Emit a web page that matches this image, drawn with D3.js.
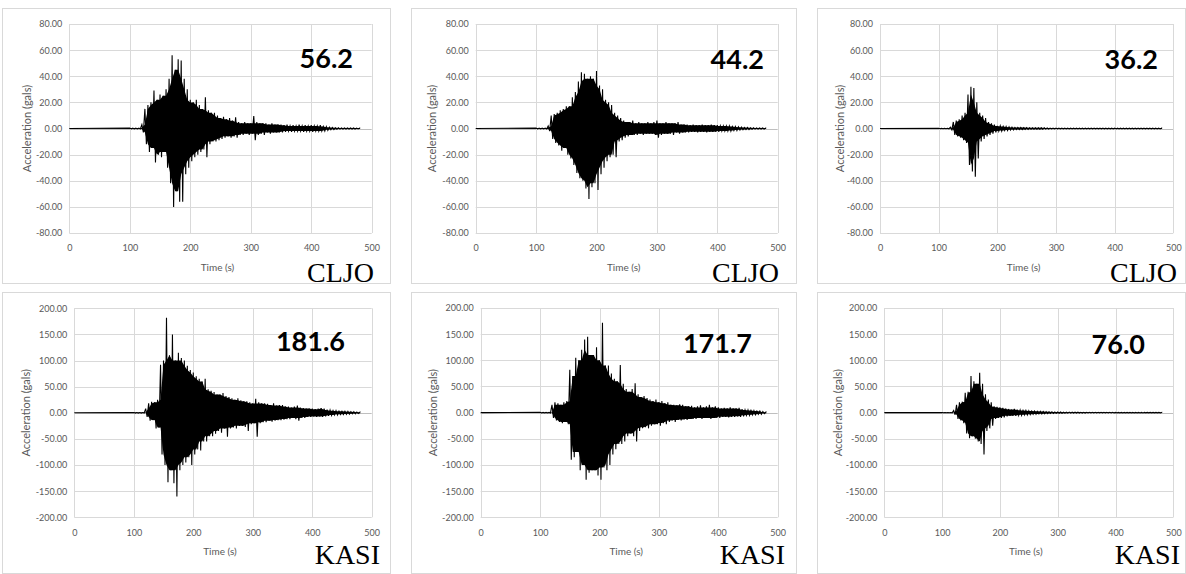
<!DOCTYPE html>
<html>
<head>
<meta charset="utf-8">
<script src="https://cdn.jsdelivr.net/npm/d3@7/dist/d3.min.js"></script>
<style>
  body { margin: 0; background: #fff; }
  svg { display: block; }
</style>
</head>
<body>
<svg id="chart" width="1186" height="574"></svg>
<script>
// ========================================
// DATA (envelope peaks, 5 s bins from 100 s to 480 s)
// ========================================

const binTimes = d3.range(100, 485, 5);
const timeTicks = [0, 100, 200, 300, 400, 500];
const cljoTicks = [-80, -60, -40, -20, 0, 20, 40, 60, 80];
const kasiTicks = [-200, -150, -100, -50, 0, 50, 100, 150, 200];

const stationNames = ["CLJO", "CLJO", "CLJO", "KASI", "KASI", "KASI"];
const peakLabels = ["56.2", "44.2", "36.2", "181.6", "171.7", "76.0"];

// CLJO, peak 56.2
const cljoA_hi = [0.3,0.3,0.3,0.3,3,15,18,20,29,22,
                  26,25,30,38,56,45,53,52,38,30,
                  22,20,22,18,15,24,14,12,12,10,
                  8,9,7,8,6,8.5,5,4,5,4,
                  4,9.5,5,4,4,4,3,4,3,3,
                  3,2.5,3,2,2.5,2,3,2,2.5,2,
                  2.5,2,2,2.5,1.5,1.5,1,0.8,0.6,0.5,
                  0.4,0.4,0.4,0.4,0.4,0.3,0.3];
const cljoA_lo = [-0.3,-0.3,-0.3,-0.3,-3,-12,-18,-15,-26,-20,
                  -22,-18,-30,-42,-60,-48,-56,-56,-35,-30,
                  -25,-22,-20,-18,-16,-22,-12,-10,-10,-9,
                  -8,-7,-6,-7,-6,-7,-5,-5,-4,-5,
                  -4,-9,-5,-4,-5,-3,-4,-3,-3,-3,
                  -3,-2.5,-2,-2.5,-2,-2,-2,-2.5,-2,-2,
                  -2.5,-2,-2,-2,-2,-1.5,-1,-0.8,-0.6,-0.5,
                  -0.4,-0.4,-0.4,-0.4,-0.4,-0.3,-0.3];

// CLJO, peak 44.2
const cljoB_hi = [0.3,0.3,0.3,0.3,2,10,11,12,14,15,
                  17,17,24,28,36,43,42,38,40,38,
                  44,33,30,22,20,18,12,10,8,6,
                  5,5,6,4,5,4,4,5,4,5,
                  6,4,4,5,4,4,4,5,3,3,
                  3,2.5,3,2.5,2.5,3,2.5,2.5,3,2.5,
                  2.5,2,2,2,2,1.5,1.5,1.2,1,0.8,
                  0.8,0.6,0.5,0.4,0.4,0.4,0.3];
const cljoB_lo = [-0.3,-0.3,-0.3,-0.3,-2,-8,-11,-13,-17,-15,
                  -20,-23,-28,-34,-38,-40,-46,-54,-45,-42,
                  -47,-35,-30,-25,-22,-20,-22,-10,-9,-7,
                  -6,-5,-5,-5,-4,-5,-4,-4,-4,-5,
                  -7,-5,-4,-4,-4,-5,-3,-4,-3,-3,
                  -3,-2.5,-2.5,-3,-2.5,-2.5,-3,-2.5,-2.5,-2.5,
                  -2.5,-2,-2,-2,-2,-1.5,-1.5,-1.2,-1,-0.8,
                  -0.8,-0.6,-0.5,-0.4,-0.4,-0.4,-0.3];

// CLJO, peak 36.2
const cljoC_hi = [0.2,0.2,0.2,0.2,1,5,6,7,10,12,
                  26,32,31,20,12,10,8,5,4,3,
                  2,2,1.5,1.5,1.2,1,0.8,0.8,0.8,0.7,
                  0.7,0.6,0.6,0.6,0.5,0.5,0.5,0.4,0.3,0.3,
                  0.3,0.3,0.3,0.3,0.3,0.3,0.3,0.3,0.3,0.3,
                  0.3,0.3,0.3,0.3,0.3,0.3,0.3,0.3,0.3,0.3,
                  0.3,0.3,0.3,0.3,0.3,0.3,0.3,0.3,0.3,0.3,
                  0.3,0.3,0.3,0.3,0.3,0.3,0.3];
const cljoC_lo = [-0.2,-0.2,-0.2,-0.2,-1,-5,-6,-7,-9,-11,
                  -28,-33,-37,-23,-10,-8,-6,-5,-4,-3,
                  -2,-2,-1.5,-1.5,-1.2,-1,-0.8,-0.8,-0.8,-0.7,
                  -0.7,-0.6,-0.6,-0.6,-0.5,-0.5,-0.5,-0.4,-0.3,-0.3,
                  -0.3,-0.3,-0.3,-0.3,-0.3,-0.3,-0.3,-0.3,-0.3,-0.3,
                  -0.3,-0.3,-0.3,-0.3,-0.3,-0.3,-0.3,-0.3,-0.3,-0.3,
                  -0.3,-0.3,-0.3,-0.3,-0.3,-0.3,-0.3,-0.3,-0.3,-0.3,
                  -0.3,-0.3,-0.3,-0.3,-0.3,-0.3,-0.3];

// KASI, peak 181.6
const kasiA_hi = [0.5,0.5,0.5,0.5,8,18,21,20,25,92,
                  100,182,110,150,100,115,105,100,90,82,
                  77,70,65,60,65,45,42,40,35,35,
                  38,32,30,28,25,28,24,22,22,20,
                  18,27,20,18,18,17,15,18,14,15,
                  15,12,12,10,12,14,10,9,8,8,
                  8,7,8,9,8,6,5,4,4,3,
                  3,3,2.5,2,2,1.5,1];
const kasiA_lo = [-0.5,-0.5,-0.5,-0.5,-8,-15,-14,-30,-28,-80,
                  -100,-133,-110,-135,-160,-110,-100,-95,-85,-100,
                  -80,-70,-72,-55,-55,-45,-45,-40,-35,-38,
                  -30,-46,-30,-28,-30,-25,-25,-27,-35,-22,
                  -20,-46,-20,-18,-18,-15,-17,-15,-14,-14,
                  -13,-12,-12,-10,-12,-15,-10,-10,-8,-8,
                  -7,-8,-7,-8,-7,-6,-5,-4,-4,-3,
                  -3,-3,-2.5,-2,-2,-1.5,-1];

// KASI, peak 171.7
const kasiB_hi = [0.5,0.5,0.5,0.5,15,20,18,15,20,22,
                  82,70,105,100,120,140,145,110,110,125,
                  100,172,90,90,75,65,60,91,55,45,
                  40,45,56,35,30,32,28,25,22,25,
                  20,22,18,20,15,15,14,16,15,12,
                  12,13,10,12,14,10,12,15,10,12,
                  10,8,9,8,10,8,8,9,7,5,
                  5,4,4,3,3,2,1];
const kasiB_lo = [-0.5,-0.5,-0.5,-0.5,-10,-15,-18,-20,-18,-22,
                  -90,-85,-75,-110,-100,-128,-115,-110,-110,-120,
                  -128,-105,-110,-100,-80,-70,-60,-60,-55,-45,
                  -40,-45,-55,-35,-30,-28,-30,-25,-22,-22,
                  -25,-20,-22,-18,-15,-18,-14,-15,-13,-14,
                  -12,-12,-12,-10,-12,-10,-10,-12,-10,-10,
                  -10,-8,-8,-9,-8,-8,-7,-8,-7,-5,
                  -5,-4,-4,-3,-3,-2,-1];

// KASI, peak 76.0
const kasiC_hi = [0.3,0.3,0.3,0.3,4,15,20,21,38,40,
                  70,60,55,76,55,35,25,20,12,11,
                  10,9,8,7,6,7,6,5,4,4,
                  3.5,3,3,2.5,2.5,2,2,1.5,1.5,1.2,
                  1.2,1.2,1,1,1,0.8,0.8,0.8,0.7,0.7,
                  0.6,0.6,0.6,0.6,0.6,0.6,0.6,0.6,0.6,0.6,
                  0.5,0.5,0.5,0.5,0.5,0.5,0.5,0.5,0.5,0.5,
                  0.4,0.4,0.4,0.4,0.4,0.4,0.4];
const kasiC_lo = [-0.3,-0.3,-0.3,-0.3,-4,-12,-15,-20,-40,-49,
                  -45,-50,-55,-60,-80,-35,-30,-25,-12,-10,
                  -10,-9,-7,-6,-6,-6,-5,-5,-4,-4,
                  -3.5,-3,-3,-2.5,-2.5,-2,-2,-1.5,-1.5,-1.2,
                  -1.2,-1.2,-1,-1,-1,-0.8,-0.8,-0.8,-0.7,-0.7,
                  -0.6,-0.6,-0.6,-0.6,-0.6,-0.6,-0.6,-0.6,-0.6,-0.6,
                  -0.5,-0.5,-0.5,-0.5,-0.5,-0.5,-0.5,-0.5,-0.5,-0.5,
                  -0.4,-0.4,-0.4,-0.4,-0.4,-0.4,-0.4];

// ========================================
// LAYOUT
// ========================================

const panels = [
  { hi: cljoA_hi, lo: cljoA_lo, ticks: cljoTicks, box: [2.5, 8.5, 390.5, 283.5],
    plot: [69.3, 371.7, 24, 233], titleX: 26.7, peakXY: [353, 68], nameXY: [374, 282] },
  { hi: cljoB_hi, lo: cljoB_lo, ticks: cljoTicks, box: [411.5, 8.5, 796.5, 283.5],
    plot: [475.7, 777.7, 24, 233], titleX: 431.7, peakXY: [764, 69], nameXY: [779, 282] },
  { hi: cljoC_hi, lo: cljoC_lo, ticks: cljoTicks, box: [817.5, 8.5, 1185.5, 283.5],
    plot: [880, 1173.3, 24, 233], titleX: 840, peakXY: [1158, 69], nameXY: [1177, 282] },
  { hi: kasiA_hi, lo: kasiA_lo, ticks: kasiTicks, box: [2.5, 292.5, 390.5, 573.5],
    plot: [74.3, 371.7, 308.3, 517.3], titleX: 26, peakXY: [345, 351], nameXY: [380, 564] },
  { hi: kasiB_hi, lo: kasiB_lo, ticks: kasiTicks, box: [411.5, 292.5, 796.5, 573.5],
    plot: [480.7, 777.7, 308, 517.3], titleX: 432.7, peakXY: [752, 353], nameXY: [785, 564] },
  { hi: kasiC_hi, lo: kasiC_lo, ticks: kasiTicks, box: [817.5, 292.5, 1185.5, 573.5],
    plot: [884.3, 1173.3, 308, 517.3], titleX: 838.3, peakXY: [1145, 354], nameXY: [1180, 564] }
];

const svg = d3.select('#chart');
const gridColor = '#d9d9d9';
const labelColor = '#595959';

panels.forEach((p, i) => {
  const [x0, x1, y0, y1] = p.plot;
  const x = d3.scaleLinear().domain([0, 500]).range([x0, x1]);
  const y = d3.scaleLinear().domain([p.ticks[0], p.ticks[p.ticks.length - 1]]).range([y1, y0]);
  const g = svg.append('g');

  // chart area border
  g.append('rect')
    .attr('x', p.box[0]).attr('y', p.box[1])
    .attr('width', p.box[2] - p.box[0]).attr('height', p.box[3] - p.box[1])
    .attr('fill', 'none').attr('stroke', gridColor).attr('stroke-width', 1);

  // gridlines
  g.append('g').selectAll('line.h').data(p.ticks).enter().append('line')
    .attr('x1', x0).attr('x2', x1)
    .attr('y1', d => Math.round(y(d)) + 0.5).attr('y2', d => Math.round(y(d)) + 0.5)
    .attr('stroke', d => d === 0 ? '#bfbfbf' : gridColor).attr('stroke-width', 1);
  g.append('g').selectAll('line.v').data(timeTicks).enter().append('line')
    .attr('x1', d => Math.round(x(d)) + 0.5).attr('x2', d => Math.round(x(d)) + 0.5)
    .attr('y1', y0).attr('y2', y1)
    .attr('stroke', gridColor).attr('stroke-width', 1);

  // axes (labels only, Excel style)
  const yAxis = g.append('g').attr('transform', `translate(${x0},0)`)
    .call(d3.axisLeft(y).tickValues(p.ticks).tickFormat(d => d.toFixed(2)).tickSize(0).tickPadding(7));
  const xAxis = g.append('g').attr('transform', `translate(0,${y1})`)
    .call(d3.axisBottom(x).tickValues(timeTicks).tickFormat(d3.format('d')).tickSize(0).tickPadding(12));
  [yAxis, xAxis].forEach(a => {
    a.select('.domain').remove();
    a.selectAll('text').attr('fill', labelColor)
      .attr('font-family', 'Lato, "Open Sans", sans-serif').attr('font-size', 9);
  });

  // axis titles
  g.append('text')
    .attr('transform', `translate(${p.titleX},${(y0 + y1) / 2}) rotate(-90)`)
    .attr('text-anchor', 'middle').attr('dy', '0.35em')
    .attr('font-family', 'Lato, "Open Sans", sans-serif').attr('font-size', 11)
    .attr('fill', labelColor).text('Acceleration (gals)');
  g.append('text')
    .attr('x', (x0 + x1) / 2 - 3).attr('y', y1 + 38)
    .attr('text-anchor', 'middle')
    .attr('font-family', 'Lato, "Open Sans", sans-serif').attr('font-size', 10)
    .attr('fill', labelColor).text('Time (s)');

  // dense core of the record: the part every neighbouring bin reaches
  const core = binTimes.map((t, k) => ({
    t,
    hi: d3.min([p.hi[k - 1], p.hi[k], p.hi[k + 1]].filter(v => v !== undefined)),
    lo: d3.max([p.lo[k - 1], p.lo[k], p.lo[k + 1]].filter(v => v !== undefined))
  }));
  g.append('path')
    .datum([{ t: 0, hi: 0, lo: 0 }].concat(core))
    .attr('d', d3.area().x(d => x(d.t)).y0(d => y(d.lo)).y1(d => y(d.hi)))
    .attr('fill', '#000');

  // oscillation trace through each bin's max and min
  const pts = [[0, 0]];
  binTimes.forEach((t, k) => {
    pts.push([t, p.hi[k]]);
    pts.push([Math.min(t + 2.5, 480), p.lo[k]]);
  });
  g.append('path')
    .datum(pts)
    .attr('d', d3.line().x(d => x(d[0])).y(d => y(d[1])))
    .attr('fill', 'none').attr('stroke', '#000').attr('stroke-width', 1.1);

  // peak value + station name
  g.append('text')
    .attr('x', p.peakXY[0]).attr('y', p.peakXY[1])
    .attr('text-anchor', 'end')
    .attr('font-family', 'Lato, "Open Sans", sans-serif').attr('font-weight', 700)
    .attr('font-size', 27).attr('fill', '#000').text(peakLabels[i]);
  g.append('text')
    .attr('x', p.nameXY[0]).attr('y', p.nameXY[1])
    .attr('text-anchor', 'end')
    .attr('font-family', '"Liberation Serif", "Times New Roman", serif')
    .attr('font-size', 28).attr('fill', '#000').text(stationNames[i]);
});
</script>
</body>
</html>
